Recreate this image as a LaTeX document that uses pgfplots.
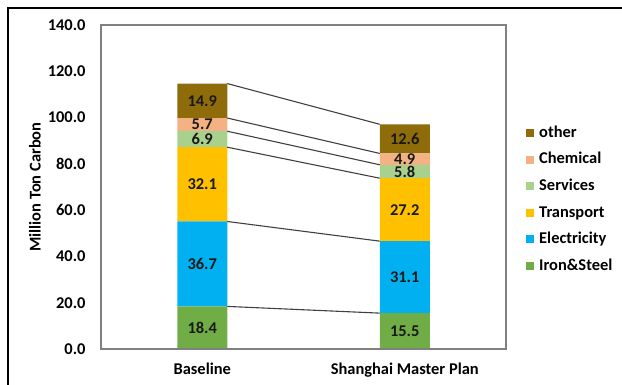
\documentclass[border=0pt]{standalone}
\usepackage{pgfplots}
\usepackage{pgfplotstable}
\pgfplotsset{compat=1.18}
\usepackage{fontspec}
\setmainfont{Carlito}
\definecolor{cIron}{HTML}{70AD47}
\definecolor{cElec}{HTML}{00B0F0}
\definecolor{cTrans}{HTML}{FFC000}
\definecolor{cServ}{HTML}{A9D18E}
\definecolor{cChem}{HTML}{F4B183}
\definecolor{cOther}{HTML}{8E6C0A}
\definecolor{cFrame}{HTML}{808080}
\definecolor{cLine}{HTML}{404040}
\pgfplotstableread{
x   iron  elec  trans serv chem other
0   18.4  36.7  32.1  6.9  5.7  14.9
1   15.5  31.1  27.2  5.8  4.9  12.6
}\data
\newcommand\fnt{\fontsize{16.5}{19.8}\selectfont\bfseries}
\pgfplotsset{
  base/.style={at={(101bp,36bp)}, anchor=south west, scale only axis,
    width=405bp, height=324bp, xmin=-0.5, xmax=1.5, ymin=0, ymax=140},
  sqleg/.style={legend image code/.code={\fill[##1] (0bp,-4bp) rectangle (8bp,4bp);}},
  seg/.style={fill=#1, draw=none, sqleg},
  lab/.style={visualization depends on={\thisrow{#1}\as\rawy}},
}
\begin{document}
\begin{tikzpicture}[font=\fnt]
\path[use as bounding box] (0,0) rectangle (622bp,385bp);
\draw[black, line width=1.3bp] (8bp,0) -- (8bp,377bp) -- (622bp,377bp);
\begin{axis}[base, hide axis,
  ybar stacked, bar width=50bp,
  nodes near coords={\pgfmathprintnumber[fixed,fixed zerofill,precision=1,assume math mode=true]{\rawy}},
  every node near coord/.append style={anchor=center, inner sep=0pt, text=black!90, font=\fnt},
  reverse legend,
  legend cell align=left,
  legend style={draw=none, fill=none, at={(axis description cs:1,0.694)}, anchor=north west, xshift=20bp,
    inner sep=0pt, row sep=9.1bp, font=\fnt,
    nodes={inner sep=1bp, text height=12bp, text depth=3.5bp},
    /tikz/every odd column/.append style={column sep=4bp}},
]
\addplot[seg=cIron, lab=iron] table[x=x, y=iron] {\data};
\addplot[seg=cElec, lab=elec] table[x=x, y=elec] {\data};
\addplot[seg=cTrans, lab=trans] table[x=x, y=trans] {\data};
\addplot[seg=cServ, lab=serv] table[x=x, y=serv] {\data};
\addplot[seg=cChem, lab=chem] table[x=x, y=chem] {\data};
\addplot[seg=cOther, lab=other] table[x=x, y=other] {\data};
\legend{Iron\&Steel, Electricity, Transport, Services, Chemical, other}
\end{axis}
\begin{axis}[base,
  axis line style={cFrame, line width=1.4bp},
  major tick length=0pt,
  xtick={0,1}, xticklabels={Baseline, Shanghai Master Plan},
  ytick={0,20,...,140},
  yticklabel style={xshift=-12bp, /pgf/number format/.cd, fixed, fixed zerofill, precision=1, assume math mode=true},
  xticklabel style={yshift=-10bp},
  ticklabel style={font=\fnt},
  every axis y label/.style={at={(axis description cs:0,0.5)}, xshift=-66bp, rotate=90, anchor=center, font=\fnt},
  ylabel={Million Ton Carbon},
]
\addplot[cLine, line width=1.1bp] coordinates {(0.1235,114.7) (0.8765,97.1)};
\addplot[cLine, line width=1.1bp] coordinates {(0.1235,99.8) (0.8765,84.5)};
\addplot[cLine, line width=1.1bp] coordinates {(0.1235,94.1) (0.8765,79.6)};
\addplot[cLine, line width=1.1bp] coordinates {(0.1235,87.2) (0.8765,73.8)};
\addplot[cLine, line width=1.1bp] coordinates {(0.1235,55.1) (0.8765,46.6)};
\addplot[cLine, line width=1.1bp] coordinates {(0.1235,18.4) (0.8765,15.5)};
\end{axis}
\end{tikzpicture}
\end{document}
